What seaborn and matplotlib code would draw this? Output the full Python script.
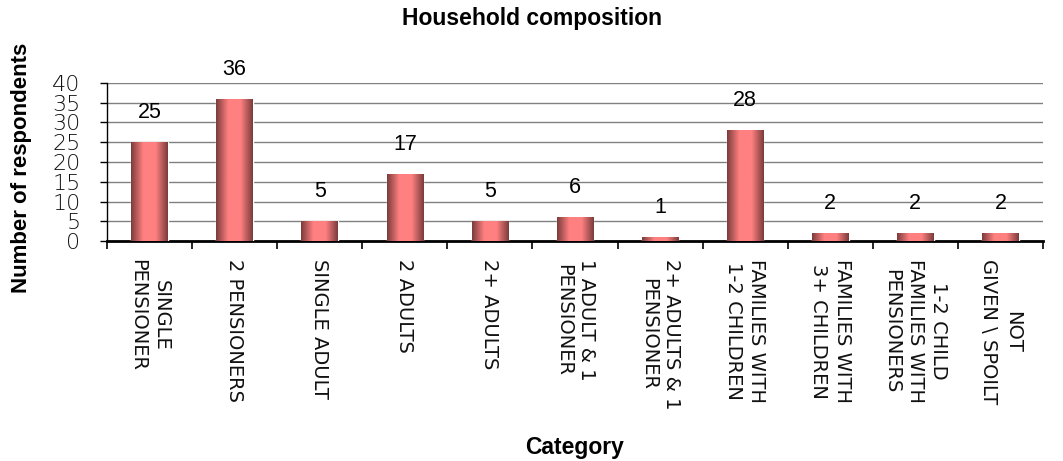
import numpy as np
import pandas as pd
import matplotlib
matplotlib.use("Agg")
import matplotlib.pyplot as plt
import seaborn as sns
from matplotlib.colors import LinearSegmentedColormap

categories = ["Single\nPensioner", "2 Pensioners", "Single Adult", "2 Adults", "2+ Adults",
              "1 Adult & 1\nPensioner", "2+ Adults & 1\nPensioner", "Families with\n1-2 Children",
              "Families with\n3+ Children", "1-2 Child\nFamilies with\nPensioners", "Not\nGiven\\Spoilt"]
values = [25, 36, 5, 17, 5, 6, 1, 28, 2, 2, 2]
yticks = [0, 5, 10, 15, 20, 25, 30, 35, 40]

sns.set_theme(style="white")
plt.rcParams['font.family'] = ['Liberation Sans', 'DejaVu Sans']
plt.rcParams['text.color'] = 'black'
plt.rcParams['axes.labelcolor'] = 'black'

fig = plt.figure(figsize=(10.63, 4.61), dpi=100)
ax = fig.add_axes([107/1063, 1-241/461, (1043-107)/1063, (241-83)/461])

df = pd.DataFrame({"cat": categories, "val": values})
sns.barplot(data=df, x="cat", y="val", ax=ax, color="#ff8080", width=0.43, saturation=1, zorder=3)

ax.set_ylim(0, 40)
ax.set_xlim(-0.5, len(categories) - 0.5)
ax.set_yticks(yticks)
ax.set_yticklabels([str(v) for v in yticks], fontsize=16, family='DejaVu Sans',
                   fontweight='light', color='#111111')
ax.yaxis.grid(True, color='#808080', linewidth=1, zorder=0)
ax.set_axisbelow(True)

# gradient fill on bars
cmap = LinearSegmentedColormap.from_list("g", ["#7a3b3b", "#ff8080", "#ff8080", "#7a3b3b"])
grad = np.linspace(0, 1, 256).reshape(1, -1)
for p in ax.patches:
    x0, y0 = p.get_x(), p.get_y()
    w, h = p.get_width(), p.get_height()
    im = ax.imshow(grad, extent=[x0, x0 + w, y0, y0 + h], aspect='auto', cmap=cmap, zorder=4)
    im.set_clip_path(p)

ax.set_xlim(-0.5, len(categories) - 0.5)
ax.set_ylim(0, 40)

# value labels
for i, v in enumerate(values):
    ax.text(i, v + 7.5, str(v), ha='center', va='center', fontsize=15.5, color='black', zorder=5)

# x tick labels
ax.set_xticks(range(len(categories)))
ax.set_xticklabels([c.upper().replace("\\", " \\ ") for c in categories], rotation=270,
                   ha='center', va='top', fontsize=14, family='DejaVu Sans',
                   linespacing=1.3, color='#111111')
ax.tick_params(axis='x', which='major', length=0, pad=13)
ax.set_xticks(np.arange(-0.5, len(categories), 1.0), minor=True)
ax.tick_params(axis='x', which='minor', length=6, width=1.2, color='black', direction='out', bottom=True)
ax.tick_params(axis='y', which='major', length=5, width=1, color='black', direction='out', left=True, pad=14)

for s in ['top', 'right']:
    ax.spines[s].set_visible(False)
ax.spines['left'].set_color('black')
ax.spines['left'].set_linewidth(1)
ax.spines['bottom'].set_color('black')
ax.spines['bottom'].set_linewidth(2)

ax.set_xlabel("Category", fontsize=16.5, fontweight='bold', labelpad=0, color='black')
ax.xaxis.set_label_coords(0.5, -(436 - 241) / 158)
ax.set_ylabel("Number of respondents", fontsize=16, fontweight='bold', color='black')
ax.yaxis.set_label_coords(-(107 - 32) / 936, (241 - 168) / 158)
fig.text(532 / 1063, 1 - 18 / 461, "Household composition", ha='center', va='center',
         fontsize=16.5, fontweight='bold', color='black')

fig.savefig("out.png", dpi=100)
